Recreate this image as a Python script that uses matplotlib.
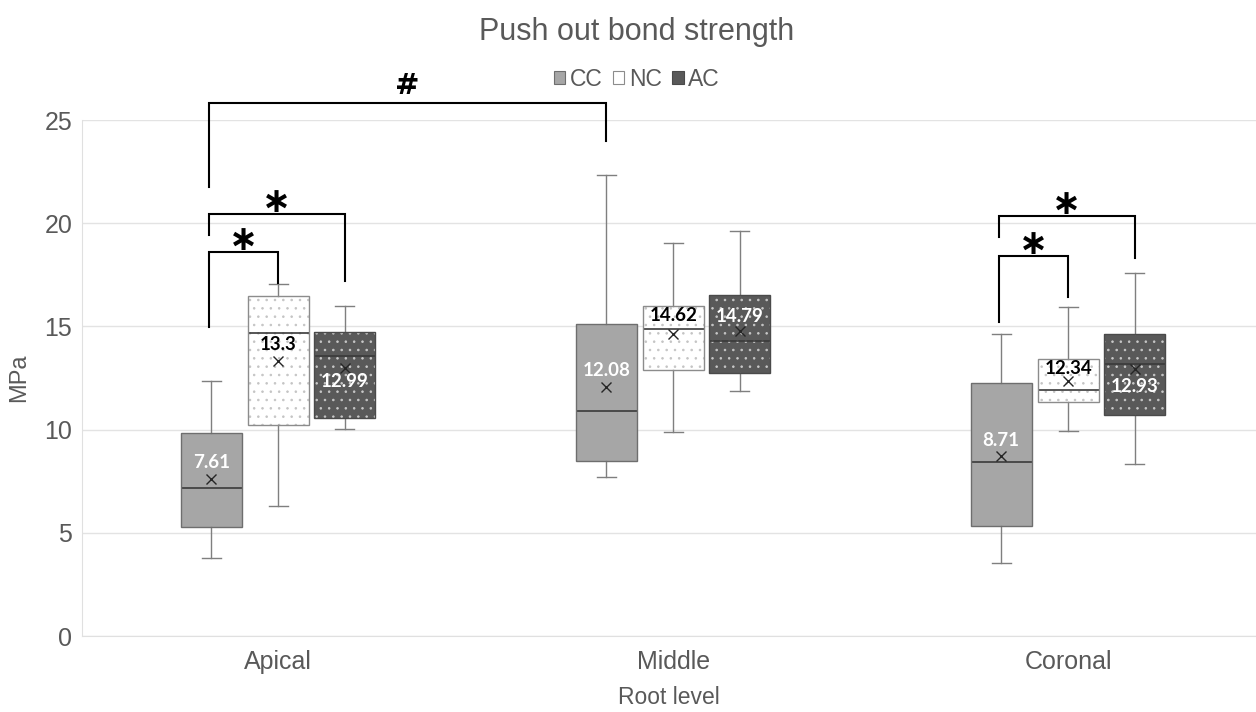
import matplotlib.pyplot as plt
from matplotlib.patches import Patch, PathPatch

# Data (MPa)
root_levels = ["Apical", "Middle", "Coronal"]
groups = ["CC", "NC", "AC"]

# per group: values for Apical, Middle, Coronal
cc_whislo = [3.8, 7.7, 3.55]
cc_q1 = [5.27, 8.48, 5.34]
cc_med = [7.16, 10.92, 8.41]
cc_q3 = [9.84, 15.13, 12.27]
cc_whishi = [12.37, 22.34, 14.63]
cc_mean = [7.61, 12.08, 8.71]

nc_whislo = [6.3, 9.87, 9.95]
nc_q1 = [10.22, 12.89, 11.32]
nc_med = [14.67, 14.87, 11.92]
nc_q3 = [16.47, 16.0, 13.42]
nc_whishi = [17.05, 19.06, 15.92]
nc_mean = [13.3, 14.62, 12.34]

ac_whislo = [10.03, 11.87, 8.32]
ac_q1 = [10.58, 12.73, 10.71]
ac_med = [13.57, 14.29, 13.16]
ac_q3 = [14.71, 16.52, 14.63]
ac_whishi = [16.0, 19.64, 17.57]
ac_mean = [12.99, 14.79, 12.93]

# significance brackets: (level_a, group_a, level_b, group_b, top, left_end, right_end, mark)
brackets = [
    (0, 0, 1, 0, 25.81, 21.77, 24.0, "#"),
    (0, 0, 0, 2, 20.43, 19.43, 17.21, "*"),
    (0, 0, 0, 1, 18.59, 14.97, 17.1, "*"),
    (2, 0, 2, 2, 20.35, 19.35, 18.3, "*"),
    (2, 0, 2, 1, 18.41, 15.23, 16.44, "*"),
]

series = {
    "CC": (cc_whislo, cc_q1, cc_med, cc_q3, cc_whishi, cc_mean),
    "NC": (nc_whislo, nc_q1, nc_med, nc_q3, nc_whishi, nc_mean),
    "AC": (ac_whislo, ac_q1, ac_med, ac_q3, ac_whishi, ac_mean),
}

# styling
offsets = {"CC": -0.17, "NC": 0.0, "AC": 0.168}
face = {"CC": "#a6a6a6", "NC": "#ffffff", "AC": "#595959"}
dotcol = {"CC": "#a6a6a6", "NC": "#c4c4c4", "AC": "#c8c8c8"}
hatch = {"CC": None, "NC": "..", "AC": ".."}
edge = {"CC": "#6e6e6e", "NC": "#8c8c8c", "AC": "#4a4a4a"}
label_col = {"CC": "white", "NC": "black", "AC": "white"}
label_dy = {"CC": [0.8, 0.76, 0.74], "NC": [0.8, 0.9, 0.63], "AC": [-0.67, 0.68, -0.82]}

grey = "#595959"
plt.rcParams["font.family"] = ["Liberation Sans", "DejaVu Sans"]
plt.rcParams["hatch.linewidth"] = 0.6

fig = plt.figure(figsize=(12.56, 7.12), dpi=100)
ax = fig.add_axes([82 / 1256, 76 / 712, 1174 / 1256, 516 / 712])

for g in groups:
    wl, q1, md, q3, wh, mn = series[g]
    stats = []
    for i in range(len(root_levels)):
        stats.append(dict(whislo=wl[i], q1=q1[i], med=md[i], q3=q3[i], whishi=wh[i], mean=mn[i], fliers=[]))
    pos = [i + offsets[g] for i in range(len(root_levels))]
    bp = ax.bxp(stats, positions=pos, widths=0.155, capwidths=0.048, patch_artist=True,
                showmeans=True, showfliers=False,
                boxprops=dict(facecolor=face[g], edgecolor=dotcol[g], linewidth=0, hatch=hatch[g]),
                whiskerprops=dict(color="#7f7f7f", linewidth=1),
                capprops=dict(color="#7f7f7f", linewidth=1),
                medianprops=dict(color="#3a3a3a", linewidth=1.2),
                meanprops=dict(marker="x", markersize=7, markeredgecolor="#262626", markeredgewidth=1))
    for patch in bp["boxes"]:
        ax.add_patch(PathPatch(patch.get_path(), facecolor="none", edgecolor=edge[g], linewidth=1, zorder=2.5))
    for i, p in enumerate(pos):
        ax.text(p, mn[i] + label_dy[g][i], f"{mn[i]:g}", ha="center", va="center",
                fontsize=13.5, fontweight="bold", color=label_col[g], family=["Lato", "DejaVu Sans"], zorder=5)

# brackets
for la, ga, lb, gb, top, y1, y2, mark in brackets:
    x1 = la + offsets[groups[ga]] - 0.006
    x2 = lb + offsets[groups[gb]]
    ax.plot([x1, x1, x2, x2], [y1, top, top, y2], color="black", linewidth=1.5, clip_on=False,
            solid_joinstyle="miter", zorder=4)
    if mark == "#":
        ax.text((x1 + x2) / 2, top + 0.85, mark, ha="center", va="center", fontsize=21,
                fontweight="bold", family=["DejaVu Sans"], clip_on=False)
    else:
        ax.text((x1 + x2) / 2, top + 0.6, "\u2217", ha="center", va="center", fontsize=25,
                fontweight="bold", family=["DejaVu Sans"], clip_on=False)

ax.set_xlim(-0.497, 2.475)
ax.set_ylim(0, 25)
ax.set_yticks([0, 5, 10, 15, 20, 25])
ax.set_xticks(range(len(root_levels)))
ax.set_xticklabels(root_levels)
ax.tick_params(axis="both", length=0, colors=grey)
ax.tick_params(axis="y", labelsize=18, pad=7)
ax.tick_params(axis="x", labelsize=18, pad=10)
ax.yaxis.grid(True, color="#e3e3e3", linewidth=1)
ax.set_axisbelow(True)
for s in ["top", "right"]:
    ax.spines[s].set_visible(False)
ax.spines["left"].set_color("#e0e0e0")
ax.spines["bottom"].set_color("#e0e0e0")

ax.set_ylabel("MPa", fontsize=17, color=grey, labelpad=10)
ax.set_xlabel("Root level", fontsize=16.5, color=grey, labelpad=9)

fig.text(0.507, 0.955, "Push out bond strength", ha="center", va="center", fontsize=22, color=grey)

handles = [Patch(facecolor=face[g], edgecolor=edge[g], linewidth=0.8) for g in groups]
fig.legend(handles, groups, loc="center", bbox_to_anchor=(0.507, 0.889), ncol=3, frameon=False,
           fontsize=16.5, handlelength=0.5, handleheight=0.5, handletextpad=0.2, columnspacing=0.45,
           labelcolor=grey)

fig.savefig("out.png", dpi=100)
